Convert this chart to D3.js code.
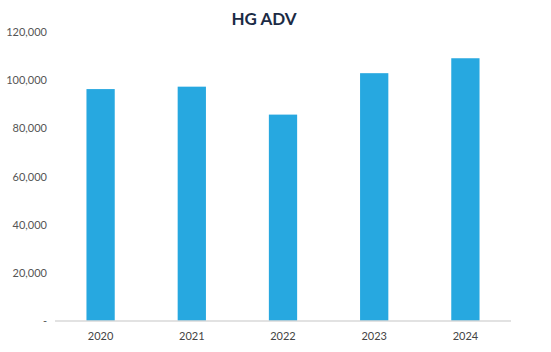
<!DOCTYPE html>
<html><head><meta charset="utf-8">
<script src="https://cdn.jsdelivr.net/npm/d3@7"></script>
<style>body{margin:0;background:#fff;}svg{display:block;}</style>
</head><body>
<svg id="c" width="551" height="352"></svg>
<script>
const categories = ["2020","2021","2022","2023","2024"];
const values = [96300, 97300, 85700, 102900, 109100];
const yTicks = [0, 20000, 40000, 60000, 80000, 100000, 120000];
const title = "HG ADV";

const svg = d3.select("#c");
const m = {left:55, right:40, top:32, bottom:31};
const W = 551, H = 352;
const x = d3.scaleBand().domain(categories).range([m.left, W - m.right]).paddingInner(0.69).paddingOuter(0.345);
const y = d3.scaleLinear().domain([0, 120000]).range([H - m.bottom, m.top]);
const font = "Lato, 'Open Sans', sans-serif";

svg.append("text").attr("x", 264).attr("y", 25).attr("text-anchor","middle")
  .attr("font-family", font).attr("font-weight", 700).attr("font-size", 17).attr("fill", "#1b2b45").text(title);

const fmt = d => d === 0 ? "-" : d3.format(",")(d);
const ya = svg.append("g").attr("transform", `translate(${m.left},0)`)
  .call(d3.axisLeft(y).tickValues(yTicks).tickFormat(fmt).tickSize(0).tickPadding(8));
ya.select(".domain").remove();
ya.selectAll("text").attr("font-family", font).attr("font-size", 11).attr("fill", "#555");

svg.selectAll("rect.bar").data(values).join("rect").attr("class","bar")
  .attr("x", (d,i) => x(categories[i])).attr("width", x.bandwidth())
  .attr("y", d => y(d)).attr("height", d => y(0) - y(d)).attr("fill", "#27a8e0");

const xa = svg.append("g").attr("transform", `translate(0,${y(0)})`)
  .call(d3.axisBottom(x).tickSize(0).tickPadding(11));
xa.select(".domain").attr("stroke", "#d9d9d9").attr("stroke-width", 1.5)
  .attr("d", `M${m.left},0H${W - m.right}`);
xa.selectAll("text").attr("font-family", font).attr("font-size", 11).attr("fill", "#444");
</script>
</body></html>
